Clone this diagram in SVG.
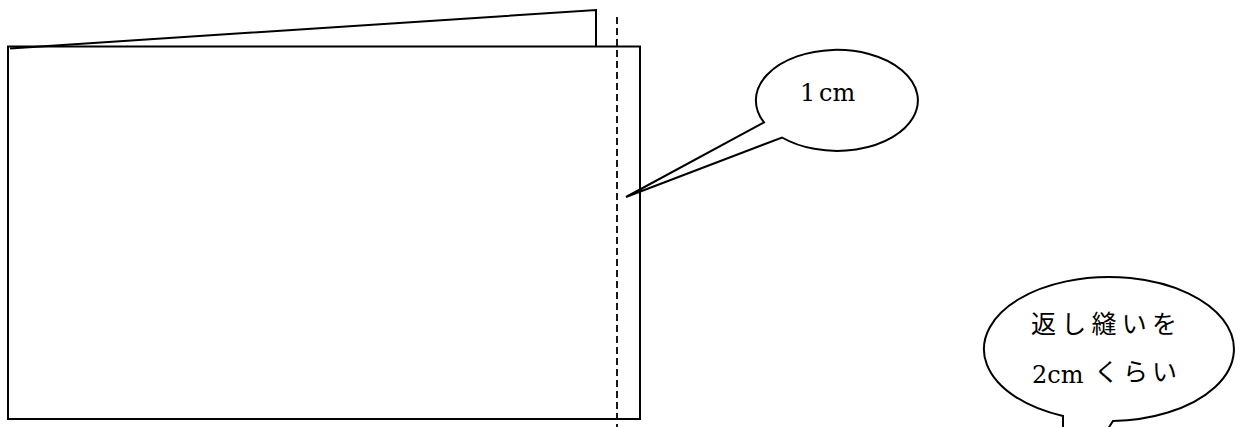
<svg xmlns="http://www.w3.org/2000/svg" width="1238" height="427" viewBox="0 0 1238 427">
<style>
.ln{fill:none;stroke:#000;stroke-width:2;stroke-linejoin:miter}
.bub{fill:#fff;stroke:#000;stroke-width:2}
.dash{fill:none;stroke:#000;stroke-width:1.8;stroke-dasharray:7 4}
.lat{font-family:"DejaVu Serif","Liberation Serif","Noto Sans CJK JP",serif;font-size:24px;fill:#000}
.jp{font-family:"Noto Sans CJK JP",sans-serif;font-size:25px;fill:#000}
</style>
<rect width="1238" height="427" fill="#fff"/>
<g id="cloth">
<rect class="ln" x="8" y="46.5" width="632" height="372.5"/>
<path class="ln" d="M10,48.5 L596,10 L596,47"/>
</g>
<g id="connectors">
<line class="dash" x1="617" y1="17" x2="617" y2="427"/>
</g>
<g id="callout-1cm">
<path class="bub" d="M626,197 L764,122.4 A81 50.5 0 1 1 782,137.5 Z"/>
<text class="lat" y="101"><tspan x="800">1</tspan><tspan x="819">cm</tspan></text>
</g>
<g id="callout-2cm">
<path class="bub" d="M1063,432 L1063,416 A125 72 0 1 1 1113,421 L1106,432"/>
<text class="jp" x="1031" y="333" textLength="146" lengthAdjust="spacing">返し縫いを</text>
<text class="lat" x="1032" y="383">2cm</text>
<text class="jp" x="1094" y="381" textLength="83" lengthAdjust="spacing">くらい</text>
</g>
</svg>
